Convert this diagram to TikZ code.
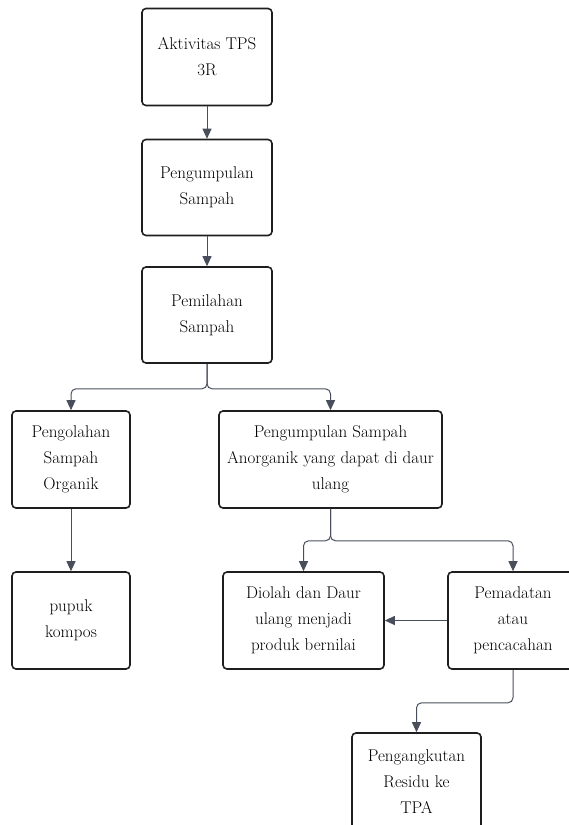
\documentclass[tikz,border=0pt]{standalone}
\usepackage{tikz}
\usetikzlibrary{calc}
\usetikzlibrary{arrows.meta}
\usetikzlibrary{positioning}
\usepackage{color}
\definecolor{boxline}{RGB}{30, 30, 30}
\definecolor{slate}{RGB}{72, 78, 92}

\tikzset{
    stepbox/.style={draw=boxline, line width=1.6pt, rounded corners=4pt, fill=white,
                    align=center, inner sep=2pt, font=\rmfamily\fontsize{17}{26}\selectfont},
    flow/.style={draw=slate, line width=1pt, rounded corners=5pt,
                 -{Triangle[length=10pt, width=9pt]}},
}

\begin{document}
\begin{tikzpicture}[x=1pt, y=-1pt]
            \useasboundingbox (0,0) rectangle (569,825);
            \clip             (0,0) rectangle (569,825);
            % main column
            \node[stepbox, minimum width=130pt, minimum height=97pt] (aktivitas)    at (207.0, 57.0)  {Aktivitas TPS\\3R};
            \node[stepbox, minimum width=130pt, minimum height=96pt] (kumpul)       at (207.0,187.5)  {Pengumpulan\\Sampah};
            \node[stepbox, minimum width=130pt, minimum height=96pt] (pilah)        at (207.0,315.0)  {Pemilahan\\Sampah};
            % organik / anorganik
            \node[stepbox, minimum width=118pt, minimum height=97pt] (organik)      at ( 71.0,459.5)  {Pengolahan\\Sampah\\Organik};
            \node[stepbox, minimum width=223pt, minimum height=97pt] (anorganik)    at (330.5,459.5)  {Pengumpulan Sampah\\Anorganik yang dapat di daur\\ulang};
            \node[stepbox, minimum width=118pt, minimum height=97pt] (kompos)       at ( 71.0,620.5)  {pupuk\\kompos};
            \node[stepbox, minimum width=161pt, minimum height=97pt] (daurulang)    at (303.5,620.5)  {Diolah dan Daur\\ulang menjadi\\produk bernilai};
            \node[stepbox, minimum width=130pt, minimum height=97pt] (padat)        at (513.0,620.5)  {Pemadatan\\atau\\pencacahan};
            \node[stepbox, minimum width=129pt, minimum height=97pt] (angkut)       at (416.5,781.5)  {Pengangkutan\\Residu ke\\TPA};
            % connectors
            \draw[flow] (aktivitas) -- (kumpul);
            \draw[flow] (kumpul)    -- (pilah);
            \draw[flow] (pilah.south)     -- ++(0,25) -| (organik.north);
            \draw[flow] (pilah.south)     -- ++(0,25) -| (anorganik.north);
            \draw[flow] (organik)   -- (kompos);
            \draw[flow] (anorganik.south) -- ++(0,32) -| (daurulang.north);
            \draw[flow] (anorganik.south) -- ++(0,32) -| (padat.north);
            \draw[flow] (padat)     -- (daurulang);
            \draw[flow] (padat.south)     -- ++(0,33) -| (angkut.north);
        \end{tikzpicture}
\end{document}
